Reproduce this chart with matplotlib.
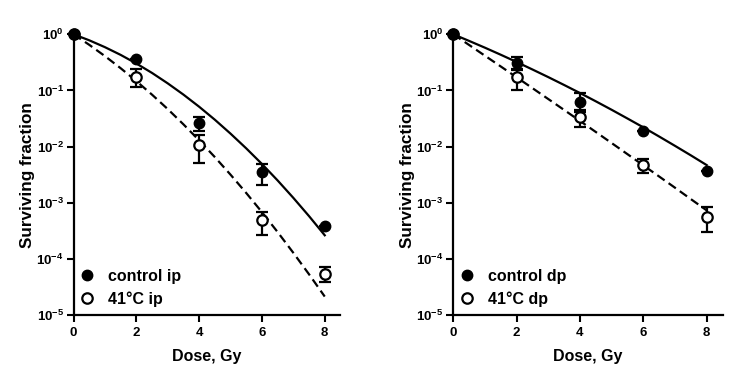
import matplotlib
matplotlib.use("Agg")
import matplotlib.pyplot as plt
from matplotlib.lines import Line2D
import numpy as np

plt.rcParams["font.family"] = ["Liberation Sans", "DejaVu Sans"]
plt.rcParams["font.weight"] = "bold"
plt.rcParams["mathtext.fontset"] = "custom"
plt.rcParams["mathtext.rm"] = "Liberation Sans:bold"
plt.rcParams["mathtext.bf"] = "Liberation Sans:bold"

# measured points (dose, surviving fraction, error bar ends)
dose = [0, 2, 4, 6, 8]

ctrl_ip = [1.0, 0.37, 0.026, 0.0035, 3.9e-4]
ctrl_ip_lo = [1.0, 0.37, 0.019, 0.0021, 3.9e-4]
ctrl_ip_hi = [1.0, 0.37, 0.034, 0.0049, 3.9e-4]

heat_ip = [1.0, 0.176, 0.0107, 4.9e-4, 5.4e-5]
heat_ip_lo = [1.0, 0.114, 0.0050, 2.7e-4, 3.9e-5]
heat_ip_hi = [1.0, 0.24, 0.0161, 6.9e-4, 7.3e-5]

ctrl_dp = [1.0, 0.31, 0.061, 0.019, 0.0037]
ctrl_dp_lo = [1.0, 0.24, 0.042, 0.019, 0.0037]
ctrl_dp_hi = [1.0, 0.40, 0.089, 0.019, 0.0037]

heat_dp = [1.0, 0.175, 0.034, 0.0047, 5.6e-4]
heat_dp_lo = [1.0, 0.102, 0.022, 0.0034, 3.0e-4]
heat_dp_hi = [1.0, 0.23, 0.045, 0.0059, 8.3e-4]

# fitted curves, read every half Gy
fit_dose = [0, 0.5, 1, 1.5, 2, 2.5, 3, 3.5, 4, 4.5, 5, 5.5, 6, 6.5, 7, 7.5, 8]
ctrl_ip_fit = [1.0, 0.782, 0.590, 0.430, 0.302, 0.205, 0.1337, 0.0843, 0.0513,
               0.0301, 0.0170, 0.00929, 0.0049, 0.00249, 0.00122, 5.77e-4, 2.63e-4]
heat_ip_fit = [1.0, 0.650, 0.409, 0.249, 0.147, 0.0841, 0.0466, 0.0249, 0.0129,
               0.0065, 0.00316, 0.00149, 6.8e-4, 3.0e-4, 1.28e-4, 5.31e-5, 2.13e-5]
ctrl_dp_fit = [1.0, 0.762, 0.577, 0.432, 0.321, 0.236, 0.1726, 0.125, 0.0899,
               0.064, 0.0452, 0.0316, 0.0220, 0.0151, 0.0103, 0.00698, 0.00468]
heat_dp_fit = [1.0, 0.645, 0.415, 0.267, 0.1714, 0.1098, 0.0702, 0.0449, 0.0286,
               0.0182, 0.01155, 0.00732, 0.00463, 0.00293, 0.00185, 0.00116, 7.31e-4]

y_ticks = [1e0, 1e-1, 1e-2, 1e-3, 1e-4, 1e-5]
y_labels = [r"$10^{0}$", r"$10^{-1}$", r"$10^{-2}$", r"$10^{-3}$", r"$10^{-4}$", r"$10^{-5}$"]
x_ticks = [0, 2, 4, 6, 8]


def errs(v, lo, hi):
    v = np.array(v)
    return [v - np.array(lo), np.array(hi) - v]


def panel(ax, ctrl, clo, chi, heat, hlo, hhi, cfit, hfit, tag):
    ax.plot(fit_dose, cfit, color="black", lw=1.6, zorder=2)
    ax.plot(fit_dose, hfit, color="black", lw=1.6, ls=(0, (4, 2.2)), zorder=2)
    ax.errorbar(dose, heat, yerr=errs(heat, hlo, hhi), fmt="o", mfc="white",
                mec="black", mew=1.6, ms=7.5, ecolor="black", elinewidth=1.6,
                capsize=4.5, capthick=1.6, clip_on=False, zorder=3)
    ax.errorbar(dose, ctrl, yerr=errs(ctrl, clo, chi), fmt="o", mfc="black",
                mec="black", ms=7.5, ecolor="black", elinewidth=1.6,
                capsize=4.5, capthick=1.6, clip_on=False, zorder=4)
    ax.set_yscale("log")
    ax.set_ylim(1e-5, 1)
    ax.set_xlim(0, 8.5)
    ax.set_yticks(y_ticks)
    ax.set_yticklabels(y_labels)
    ax.minorticks_off()
    ax.set_xticks(x_ticks)
    ax.tick_params(width=1.5, length=5, labelsize=9.5, pad=2)
    ax.tick_params(axis="x", pad=4)
    for s in ["top", "right"]:
        ax.spines[s].set_visible(False)
    for s in ["left", "bottom"]:
        ax.spines[s].set_linewidth(1.6)
    ax.set_xlabel("Dose, Gy", fontsize=11.5, fontweight="bold", labelpad=7)
    ax.set_ylabel("Surviving fraction", fontsize=12.3, fontweight="bold", labelpad=1)
    handles = [
        Line2D([], [], ls="none", marker="o", ms=7.5, mfc="black", mec="black"),
        Line2D([], [], ls="none", marker="o", ms=7.5, mfc="white", mec="black", mew=1.6),
    ]
    labels = [f"control {tag}", f"41\u00b0C {tag}"]
    ax.legend(handles, labels, loc="lower left", frameon=False, fontsize=11.5,
              handletextpad=0.85, borderaxespad=0.0, borderpad=0.0,
              labelspacing=0.45, bbox_to_anchor=(0.02, 0.03), handlelength=1.0)


fig = plt.figure(figsize=(7.38, 3.84), dpi=100)
ax1 = fig.add_axes([0.0996, 0.1797, 0.3617, 0.731])
ax2 = fig.add_axes([0.6142, 0.1797, 0.3648, 0.731])

panel(ax1, ctrl_ip, ctrl_ip_lo, ctrl_ip_hi, heat_ip, heat_ip_lo, heat_ip_hi,
      ctrl_ip_fit, heat_ip_fit, "ip")
panel(ax2, ctrl_dp, ctrl_dp_lo, ctrl_dp_hi, heat_dp, heat_dp_lo, heat_dp_hi,
      ctrl_dp_fit, heat_dp_fit, "dp")

fig.savefig("out.png", dpi=100)
